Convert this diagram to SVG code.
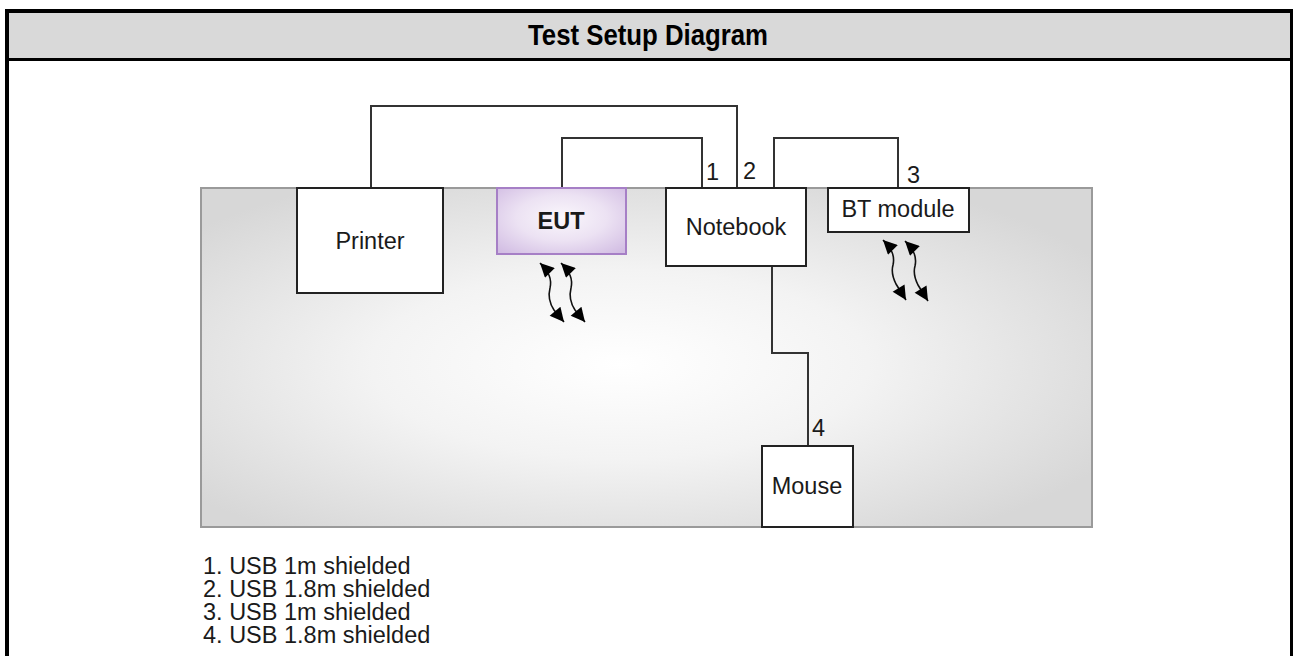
<svg xmlns="http://www.w3.org/2000/svg" width="1293" height="656" viewBox="0 0 1293 656">
<defs>
<style>
.lbl{font-family:"Liberation Sans",Arial,sans-serif;font-size:23.5px;fill:#1a1a1a}
.box{fill:#fff;stroke:#222;stroke-width:2}
.wire{fill:none;stroke:#333;stroke-width:2}
.wave{fill:none;stroke:#111;stroke-width:1.6;marker-start:url(#ah);marker-end:url(#ah)}
</style>
<radialGradient id="bg" cx="0.47" cy="0.52" r="0.62">
<stop offset="0" stop-color="#ffffff"/>
<stop offset="0.45" stop-color="#f3f3f3"/>
<stop offset="1" stop-color="#d7d7d7"/>
</radialGradient>
<radialGradient id="eutg" cx="0.5" cy="0.45" r="0.7">
<stop offset="0" stop-color="#faf7fc"/>
<stop offset="0.5" stop-color="#ece2f3"/>
<stop offset="1" stop-color="#d2bde3"/>
</radialGradient>
<marker id="ah" viewBox="0 0 10 10" refX="10" refY="5" markerWidth="16" markerHeight="14" markerUnits="userSpaceOnUse" orient="auto-start-reverse">
<path d="M0,0 L10,5 L0,10 z" fill="#000"/>
</marker>
</defs>

<g id="frame">
<rect x="7" y="11" width="1285" height="660" fill="#fff" stroke="#000" stroke-width="4"/>
<rect x="9" y="13" width="1281" height="45" fill="#d9d9d9"/>
<line x1="9" y1="59.5" x2="1291" y2="59.5" stroke="#000" stroke-width="3"/>
<text x="648" y="45" text-anchor="middle" textLength="240" lengthAdjust="spacingAndGlyphs" style="font-family:'Liberation Sans',Arial,sans-serif;font-size:29px;font-weight:bold;fill:#000">Test Setup Diagram</text>
</g>

<g id="table">
<rect x="201" y="188" width="891" height="339" fill="url(#bg)" stroke="#9a9a9a" stroke-width="2"/>
</g>

<g id="connectors">
<path class="wire" d="M371,188 V106 H737 V188"/>
<path class="wire" d="M562,188 V138 H702 V188"/>
<path class="wire" d="M774,188 V138 H898 V188"/>
<path class="wire" d="M772,266 V353 H808 V446"/>
<text class="lbl" x="706" y="180">1</text>
<text class="lbl" x="743" y="179">2</text>
<text class="lbl" x="907" y="183">3</text>
<text class="lbl" x="812" y="436">4</text>
</g>

<g id="printer">
<rect class="box" x="297" y="188" width="146" height="105"/>
<text class="lbl" x="370" y="249" text-anchor="middle">Printer</text>
</g>

<g id="eut">
<rect x="497" y="188" width="129" height="66" fill="url(#eutg)" stroke="#a67fc6" stroke-width="2"/>
<text class="lbl" x="561" y="229" text-anchor="middle" font-weight="bold">EUT</text>
</g>

<g id="notebook">
<rect class="box" x="666" y="188" width="140" height="78"/>
<text class="lbl" x="736" y="235" text-anchor="middle">Notebook</text>
</g>

<g id="bt-module">
<rect class="box" x="828" y="188" width="141" height="44"/>
<text class="lbl" x="898" y="217" text-anchor="middle">BT module</text>
</g>

<g id="mouse">
<rect class="box" x="762" y="446" width="91" height="81"/>
<text class="lbl" x="807" y="494" text-anchor="middle">Mouse</text>
</g>

<g id="wireless">
<path class="wave" transform="translate(540,263)" d="M0,0 C9,9 12,16 10,25 C8,33 10,41 14,47 L24,59"/>
<path class="wave" transform="translate(561,263)" d="M0,0 C9,9 12,16 10,25 C8,33 10,41 14,47 L24,59"/>
<path class="wave" transform="translate(883,240)" d="M0,0 C9,9 12,16 10,25 C8,32 10,38 13,44 L23,60"/>
<path class="wave" transform="translate(905,241)" d="M0,0 C9,9 12,16 10,25 C8,32 10,38 13,44 L23,60"/>
</g>

<g id="legend">
<text class="lbl" x="203" y="574">1. USB 1m shielded</text>
<text class="lbl" x="203" y="597">2. USB 1.8m shielded</text>
<text class="lbl" x="203" y="620">3. USB 1m shielded</text>
<text class="lbl" x="203" y="643">4. USB 1.8m shielded</text>
</g>
</svg>
